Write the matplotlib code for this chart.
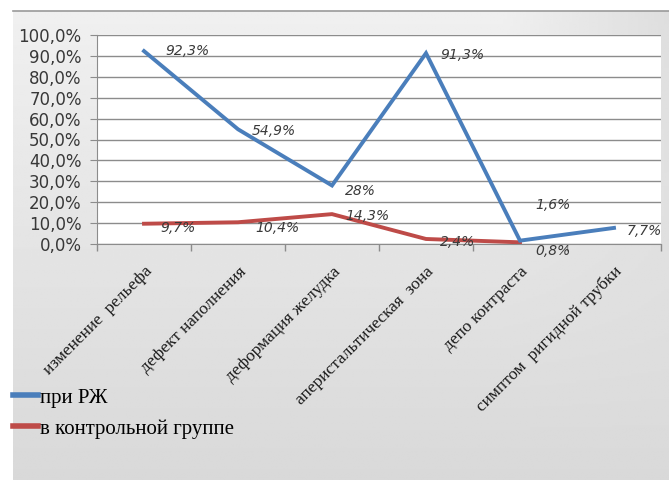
import numpy as np
import matplotlib.pyplot as plt
import matplotlib.ticker as mticker

# ── Data ────────────────────────────────────────────────────────────────────
CATEGORIES = ["изменение  рельефа", "дефект наполнения", "деформация желудка",
              "аперистальтическая  зона", "депо контраста", "симптом  ригидной трубки"]
RZH_VALUES = [92.3, 54.9, 28.0, 91.3, 1.6, 7.7]
CTRL_VALUES = [9.7, 10.4, 14.3, 2.4, 0.8, np.nan]
RZH_LABELS = ["92,3%", "54,9%", "28%", "91,3%", "1,6%", "7,7%"]
CTRL_LABELS = ["9,7%", "10,4%", "14,3%", "2,4%", "0,8%", ""]
SERIES_NAMES = ["при РЖ", "в контрольной группе"]

# ── Palette ─────────────────────────────────────────────────────────────────
BLUE = "#4A7EBB"
RED = "#BE4B48"
GRID = "#8C8C8C"
LABEL = "#3A3A3A"

# label offsets in pixels (dx, dy)
RZH_OFFS = [(21, 0), (14, -2), (13, -6), (14, -2), (15, 36), (13, -3)]
CTRL_OFFS = [(16, -4), (17, -6), (13, -2), (14, -3), (15, -9), (0, 0)]

fig = plt.figure(figsize=(6.69, 4.80), dpi=100, facecolor="white")

# ── grey gradient chart box ─────────────────────────────────────────────────
bg = fig.add_axes([13 / 669, 0, 1 - 13 / 669, 1 - 11 / 480], zorder=0)
yy, xx = np.mgrid[0:1:200j, 0:1:200j]
shade = 0.94 - 0.09 * yy - 0.07 * np.clip(xx - 0.75, 0, None) * 4 * (1 - yy) ** 2
bg.imshow(shade, cmap="gray", vmin=0, vmax=1, aspect="auto",
          extent=[0, 1, 0, 1], origin="upper")
bg.set_xlim(0, 1)
bg.set_ylim(0, 1)
bg.axis("off")
fig.add_artist(plt.Line2D([13 / 669, 1], [1 - 11 / 480, 1 - 11 / 480],
                          color="#9A9A9A", lw=1.2, transform=fig.transFigure))

# ── main axes ───────────────────────────────────────────────────────────────
ax = fig.add_axes([97 / 669, 1 - 244 / 480, (661 - 97) / 669, (244 - 35) / 480], zorder=1)
ax.set_facecolor("white")
x = np.arange(len(CATEGORIES))

l1, = ax.plot(x, RZH_VALUES, color=BLUE, lw=2.8, solid_joinstyle="miter",
              label=SERIES_NAMES[0], zorder=4)
l2, = ax.plot(x, CTRL_VALUES, color=RED, lw=2.8, solid_joinstyle="miter",
              label=SERIES_NAMES[1], zorder=3)

for xi, v, t, (dx, dy) in zip(x, RZH_VALUES, RZH_LABELS, RZH_OFFS):
    ax.annotate(t, (xi, v), xytext=(dx, dy), textcoords="offset pixels",
                ha="left", va="center", fontsize=10, style="italic", color=LABEL,
                zorder=6, annotation_clip=False)
for xi, v, t, (dx, dy) in zip(x, CTRL_VALUES, CTRL_LABELS, CTRL_OFFS):
    if t:
        ax.annotate(t, (xi, v), xytext=(dx, dy), textcoords="offset pixels",
                    ha="left", va="center", fontsize=10, style="italic", color=LABEL,
                    zorder=6, annotation_clip=False)

ax.set_xlim(-0.5, len(CATEGORIES) - 0.5)
ax.set_ylim(0, 100)
ax.yaxis.set_major_locator(mticker.MultipleLocator(10))
ax.yaxis.set_major_formatter(mticker.FuncFormatter(lambda v, p: f"{v:.1f}%".replace(".", ",")))
ax.grid(axis="y", color=GRID, lw=1.0, zorder=0)
ax.set_axisbelow(True)

ax.set_xticks(x)
ax.set_xticklabels(CATEGORIES, rotation=45, ha="right", va="top", rotation_mode="anchor",
                   fontsize=12.5, family="Liberation Serif", color="#1A1A1A")
ax.set_xticks(np.arange(-0.5, len(CATEGORIES)), minor=True)
ax.tick_params(axis="x", which="major", length=0, pad=14)
ax.tick_params(axis="x", which="minor", length=5, color=GRID, width=1)
ax.tick_params(axis="y", length=5, color=GRID, labelsize=12, labelcolor="#383838", pad=6)

for s in ["top", "right"]:
    ax.spines[s].set_visible(False)
ax.spines["left"].set_color(GRID)
ax.spines["bottom"].set_color(GRID)

# ── legend ──────────────────────────────────────────────────────────────────
leg = fig.legend(handles=[l1, l2], loc="upper left", bbox_to_anchor=(13 / 669, 1 - 388 / 480),
                 frameon=False, handlelength=1.2, handletextpad=0.1, labelspacing=0.55,
                 borderaxespad=0, borderpad=0,
                 prop={"family": "Liberation Serif", "size": 15})
for h in leg.legend_handles:
    h.set_linewidth(4)

fig.savefig("out.png", dpi=100, facecolor="white")
